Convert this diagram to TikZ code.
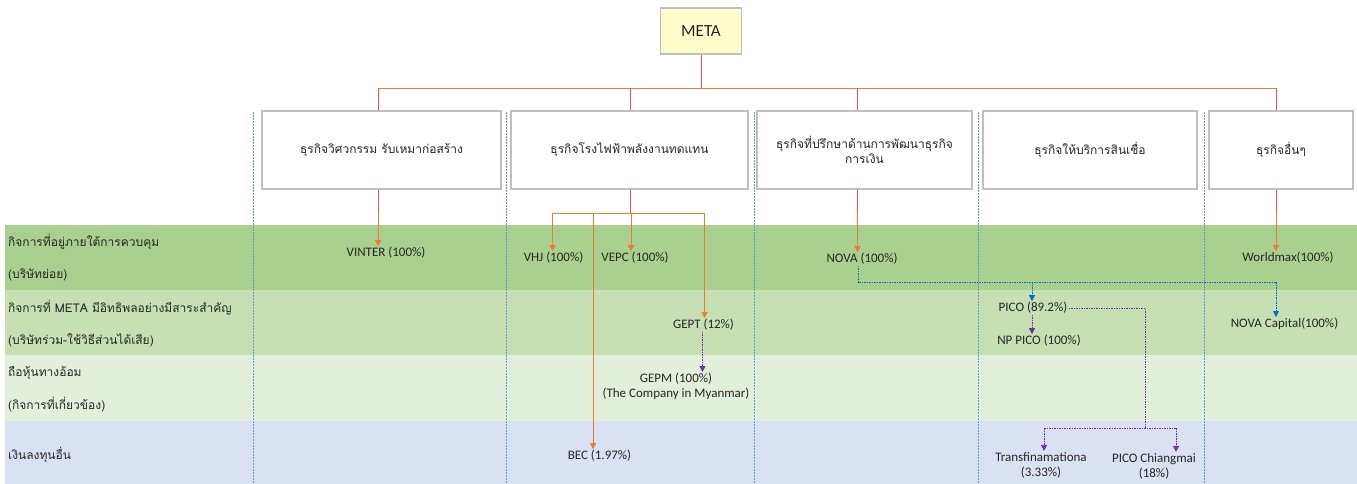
\documentclass[tikz,border=0pt]{standalone}
\usepackage{fontspec}
\setmainfont{Carlito}
\newfontfamily\thai[Script=Thai]{Loma}
\usetikzlibrary{arrows.meta}
\definecolor{bandA}{HTML}{A9D08E}
\definecolor{bandB}{HTML}{C6E0B4}
\definecolor{bandC}{HTML}{E2EFDA}
\definecolor{bandD}{HTML}{D9E1F2}
\definecolor{lnred}{HTML}{F4515E}
\definecolor{lnorange}{HTML}{ED7D31}
\definecolor{lnblue}{HTML}{0070C0}
\definecolor{lnpurple}{HTML}{7030A0}
\definecolor{divblue}{HTML}{5B9BD5}
\definecolor{boxgray}{HTML}{BFBFBF}
\definecolor{txt}{HTML}{262626}
\begin{document}
\begin{tikzpicture}[x=1pt,y=-1pt,
  catbox/.style={draw=boxgray,line width=1.2pt,fill=white,minimum height=78pt,align=center,font=\thai\fontsize{12}{15}\selectfont,text=txt},
  lbl/.style={inner sep=1pt,align=center,font=\fontsize{13}{15}\selectfont,text=txt},
  rowlbl/.style={anchor=west,inner sep=0pt,font=\thai\fontsize{12}{15}\selectfont,text=txt},
  redln/.style={draw=lnred,line width=0.9pt},
  orln/.style={draw=lnorange,line width=0.9pt},
  orarr/.style={draw=lnorange,line width=0.9pt,-{Triangle[length=6pt,width=6pt]},fill=lnorange},
  bluearr/.style={draw=lnblue,line width=0.8pt,dash pattern=on 1.5pt off 1pt,-{Triangle[length=6pt,width=6pt]},fill=lnblue},
  bluedot/.style={draw=lnblue,line width=0.8pt,dash pattern=on 1.5pt off 1pt},
  purarr/.style={draw=lnpurple,line width=0.8pt,dash pattern=on 1.5pt off 1pt,-{Triangle[length=6pt,width=6pt]},fill=lnpurple},
  purdot/.style={draw=lnpurple,line width=0.8pt,dash pattern=on 1.5pt off 1pt},
  divider/.style={draw=divblue,line width=0.6pt,dash pattern=on 2pt off 1pt}]
\useasboundingbox (0,0) rectangle (1357,484);
\fill[white] (0,0) rectangle (1357,484);
% bands
\fill[bandA] (5,225) rectangle (1357,290);
\fill[bandB] (5,290) rectangle (1357,355);
\fill[bandC] (5,355) rectangle (1357,421);
\fill[bandD] (5,421) rectangle (1357,484);
% dividers
\foreach \x in {253,506,754,978,1204} \draw[divider] (\x,112) -- (\x,484);
% row labels
\node[rowlbl] (r1a) at (8,242) {กิจการที่อยู่ภายใต้การควบคุม};
\node[rowlbl] (r1b) at (8,275) {(บริษัทย่อย)};
\node[rowlbl] (r2a) at (8,308) {กิจการที่ META มีอิทธิพลอย่างมีสาระสำคัญ};
\node[rowlbl] (r2b) at (8,340) {(บริษัทร่วม-ใช้วิธีส่วนได้เสีย)};
\node[rowlbl] (r3a) at (8,373) {ถือหุ้นทางอ้อม};
\node[rowlbl] (r3b) at (8,405) {(กิจการที่เกี่ยวข้อง)};
\node[rowlbl] (r4a) at (8,455) {เงินลงทุนอื่น};
% META
\node[draw=boxgray,line width=1.2pt,fill=yellow!20!white,minimum width=81pt,minimum height=46pt,font=\fontsize{17}{20}\selectfont,text=txt] (meta) at (701,31) {META};
% category boxes
\node[catbox,minimum width=239pt] (b1) at (381.5,150) {ธุรกิจวิศวกรรม รับเหมาก่อสร้าง};
\node[catbox,minimum width=237pt] (b2) at (629.5,150) {ธุรกิจโรงไฟฟ้าพลังงานทดแทน};
\node[catbox,minimum width=215pt] (b3) at (864.5,150) {ธุรกิจที่ปรึกษาด้านการพัฒนาธุรกิจ\\การเงิน};
\node[catbox,minimum width=214pt] (b4) at (1090,150) {ธุรกิจให้บริการสินเชื่อ};
\node[catbox,minimum width=144pt] (b5) at (1281,150) {ธุรกิจอื่นๆ};
% company labels
\node[lbl] (vinter) at (386,253) {VINTER (100\%)};
\node[lbl] (vhj) at (553.5,258) {VHJ (100\%)};
\node[lbl] (vepc) at (635,258) {VEPC (100\%)};
\node[lbl] (nova) at (862,259) {NOVA (100\%)};
\node[lbl] (world) at (1288,258) {Worldmax(100\%)};
\node[lbl] (gept) at (703.5,325) {GEPT (12\%)};
\node[lbl] (pico) at (1033,308) {PICO (89.2\%)};
\node[lbl] (novacap) at (1284.5,324) {NOVA Capital(100\%)};
\node[lbl] (nppico) at (1039,341) {NP PICO (100\%)};
\node[lbl] (gepm) at (676,386.5) {GEPM (100\%)\\(The Company in Myanmar)};
\node[lbl] (bec) at (599.5,456) {BEC (1.97\%)};
\node[lbl] (trans) at (1041,465) {Transfinamationa\\(3.33\%)};
\node[lbl] (picocm) at (1154,466) {PICO Chiangmai\\(18\%)};
% top tree
\coordinate (j0) at (701,88);
\coordinate (c1) at (378,88);
\coordinate (c2) at (630,88);
\coordinate (c3) at (857.5,88);
\coordinate (c5) at (1276,88);
\draw[redln] (meta) -- (j0);
\draw[orln] (c1) -- (c5);
\draw[redln] (c1) -- (c1 |- b1.north);
\draw[redln] (c2) -- (c2 |- b2.north);
\draw[redln] (c3) -- (c3 |- b3.north);
\draw[redln] (c5) -- (c5 |- b5.north);
% box1
\coordinate (k1) at (378,213);
\draw[redln] (c1 |- b1.south) -- (k1);
\draw[orarr] (k1) -- (k1 |- vinter.north);
% box2 branch
\coordinate (k2) at (630,213);
\coordinate (kL) at (552.5,213);
\coordinate (kB) at (593,213);
\coordinate (kV) at (631,213);
\coordinate (kR) at (704.5,213);
\draw[redln] (c2 |- b2.south) -- (k2);
\draw[orln] (kL) -- (kR);
\draw[orarr] (kL) -- (kL |- vhj.north);
\draw[orarr] (kB) -- (kB |- bec.north);
\draw[orarr] (kV) -- (kV |- vepc.north);
\draw[orarr] (kR) -- (kR |- gept.north);
% box3
\coordinate (k3) at (857.5,213);
\draw[redln] (c3 |- b3.south) -- (k3);
\draw[orarr] (k3) -- (k3 |- nova.north);
% box5
\coordinate (k5) at (1276,213);
\draw[redln] (c5 |- b5.south) -- (k5);
\draw[orarr] (k5) -- (k5 |- world.north);
% blue dotted from NOVA
\coordinate (n1) at (858,282);
\coordinate (n2) at (1276,282);
\coordinate (n3) at (1032,282);
\draw[bluedot] (n1 |- nova.south) -- (n1) -- (n2);
\draw[bluearr] (n2) -- (n2 |- novacap.north);
\draw[bluearr] (n3) -- (n3 |- pico.north);
% purple
\coordinate (g1) at (702.5,336);
\draw[purarr] (g1 |- gept.south) -- (g1 |- gepm.north);
\coordinate (p1) at (1032,318);
\draw[purarr] (p1 |- pico.south) -- (p1 |- nppico.north);
\coordinate (q1) at (1145,308);
\coordinate (q2) at (1145,428);
\coordinate (q3) at (1044,428);
\coordinate (q4) at (1176,428);
\draw[purdot] (pico.east) -- (q1) -- (q2);
\draw[purdot] (q3) -- (q4);
\draw[purarr] (q3) -- (q3 |- trans.north);
\draw[purarr] (q4) -- (q4 |- picocm.north);
\end{tikzpicture}
\end{document}
